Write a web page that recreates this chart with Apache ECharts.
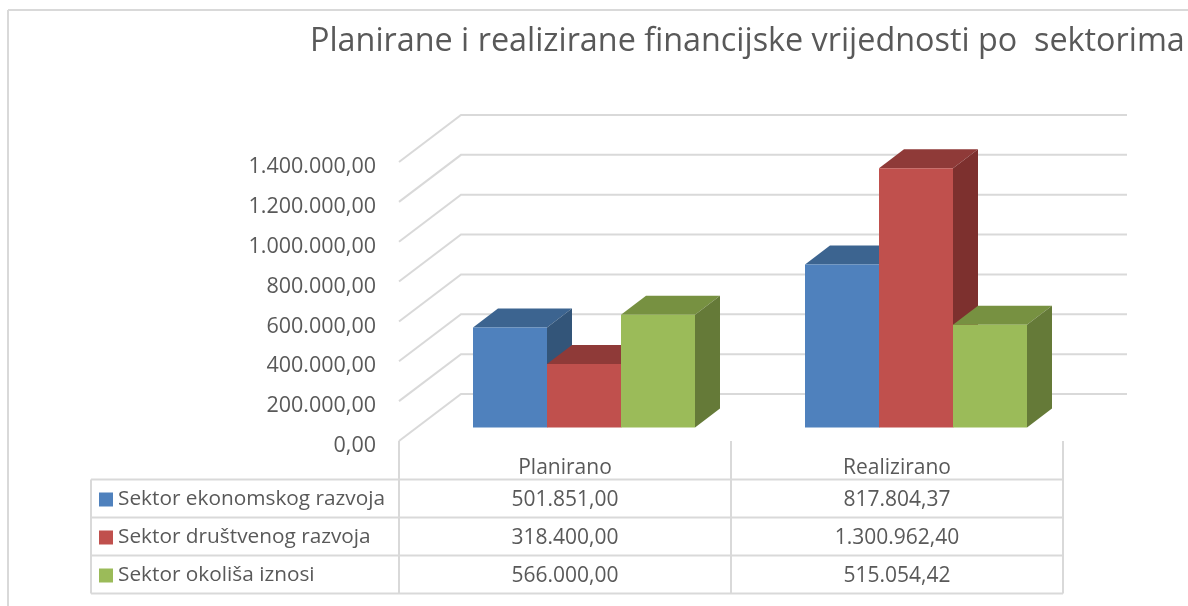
<!DOCTYPE html>
<html>
<head>
<meta charset="utf-8">
<style>
html, body { margin: 0; padding: 0; background: #fff; }
#chart { width: 1188px; height: 606px; }
</style>
<script src="https://cdn.jsdelivr.net/npm/echarts@6/dist/echarts.min.js"></script>
</head>
<body>
<div id="chart"></div>
<script>
var titleText = 'Planirane i realizirane financijske vrijednosti po  sektorima';
var categories = ['Planirano', 'Realizirano'];
var sectorNames = ['Sektor ekonomskog razvoja', 'Sektor društvenog razvoja', 'Sektor okoliša iznosi'];
var ekonomski = [501851.00, 817804.37];
var drustveni = [318400.00, 1300962.40];
var okolis = [566000.00, 515054.42];
var yTicks = [0, 200000, 400000, 600000, 800000, 1000000, 1200000, 1400000];

var frontColors = ['#4f81bd', '#c0504d', '#9bbb59'];
var topColors = ['#3c6490', '#8f3a38', '#779141'];
var sideColors = ['#335579', '#7d302e', '#657a38'];

var textColor = '#595959';
var lineColor = '#d9d9d9';
var fontName = '"Open Sans", sans-serif';

// okvir 3D prikaza
var wallDx = 62, wallDy = 47;
var barShiftX = 19, barShiftY = 13.5;
var barWidth = 74, depthX = 25, depthY = 19;

var gridLeft = 399, gridRight = 1063, gridTop = 162, gridBottom = 441;
var rowLines = [479.5, 517.5, 555.5, 593.5];
var tableLeft = 91;

// 1234567.8 -> 1.234.567,80
function fmt(v) {
    var parts = v.toFixed(2).split('.');
    return parts[0].replace(/\B(?=(\d{3})+$)/g, '.') + ',' + parts[1];
}

function renderWall(params, api) {
    var cs = params.coordSys;
    var y = api.coord([0, api.value(0)])[1];
    return {
        type: 'polyline',
        shape: { points: [[cs.x, y], [cs.x + wallDx, y - wallDy], [cs.x + cs.width + wallDx + 2, y - wallDy]] },
        style: { stroke: lineColor, lineWidth: 2, fill: null }
    };
}

function makeBar(s) {
    return function (params, api) {
        var p = api.coord([api.value(0), api.value(1)]);
        var base = api.coord([api.value(0), 0]);
        var x0 = p[0] + barShiftX + (s - 1.5) * barWidth;
        var x1 = x0 + barWidth;
        var yT = p[1] - barShiftY;
        var yB = base[1] - barShiftY;
        return {
            type: 'group',
            children: [
                {
                    type: 'polygon',
                    shape: { points: [[x0, yT], [x1, yT], [x1 + depthX, yT - depthY], [x0 + depthX, yT - depthY]] },
                    style: { fill: topColors[s] }
                },
                {
                    type: 'polygon',
                    shape: { points: [[x1, yT], [x1 + depthX, yT - depthY], [x1 + depthX, yB - depthY], [x1, yB]] },
                    style: { fill: sideColors[s] }
                },
                {
                    type: 'rect',
                    shape: { x: x0, y: yT, width: barWidth, height: yB - yT },
                    style: { fill: frontColors[s] }
                }
            ]
        };
    };
}

function tableGraphics() {
    var out = [];
    function line(x1, y1, x2, y2) {
        out.push({
            type: 'line',
            shape: { x1: x1, y1: y1, x2: x2, y2: y2 },
            style: { stroke: lineColor, lineWidth: 2 }
        });
    }
    // vanjski okvir slike
    line(8, 10, 1188, 10);
    line(8, 10, 8, 606);
    var colX = [gridLeft, (gridLeft + gridRight) / 2, gridRight];
    colX.forEach(function (x) { line(x, gridBottom, x, rowLines[3]); });
    line(tableLeft, rowLines[0], tableLeft, rowLines[3]);
    rowLines.forEach(function (y) { line(tableLeft, y, gridRight, y); });

    var values = [ekonomski, drustveni, okolis];
    values.forEach(function (row, r) {
        row.forEach(function (v, c) {
            out.push({
                type: 'text',
                x: (colX[c] + colX[c + 1]) / 2,
                y: (rowLines[r] + rowLines[r + 1]) / 2 + 2,
                style: {
                    text: fmt(v),
                    fill: textColor,
                    font: '21px ' + fontName,
                    textAlign: 'center',
                    textVerticalAlign: 'middle'
                }
            });
        });
    });
    return out;
}

var seriesValues = [ekonomski, drustveni, okolis];
var series = [{
    type: 'custom',
    name: 'wall',
    silent: true,
    z: 1,
    renderItem: renderWall,
    encode: { y: 0 },
    data: yTicks.map(function (v) { return [v]; })
}];
sectorNames.forEach(function (name, s) {
    series.push({
        type: 'custom',
        name: name,
        z: 2 + s,
        itemStyle: { color: frontColors[s] },
        renderItem: makeBar(s),
        encode: { x: 0, y: 1 },
        data: seriesValues[s].map(function (v, i) { return [i, v]; })
    });
});

var myChart = echarts.init(document.getElementById('chart'));
var option = {
    animation: false,
    backgroundColor: '#fff',
    title: {
        text: titleText,
        left: 305,
        top: 21,
        textStyle: { color: textColor, fontSize: 32.35, fontWeight: 'normal', fontFamily: fontName }
    },
    legend: {
        orient: 'vertical',
        left: 94,
        top: 484,
        itemWidth: 14,
        itemHeight: 14,
        itemGap: 17,
        icon: 'rect',
        data: sectorNames,
        textStyle: { color: textColor, fontSize: 20.8, fontFamily: fontName }
    },
    grid: { left: gridLeft, right: 1188 - gridRight, top: gridTop, bottom: 606 - gridBottom },
    xAxis: {
        type: 'category',
        data: categories,
        axisLine: { show: false },
        axisTick: { show: false },
        axisLabel: { color: textColor, fontSize: 21, fontFamily: fontName, margin: 17 }
    },
    yAxis: {
        type: 'value',
        min: 0,
        max: 1400000,
        interval: 200000,
        splitLine: { show: false },
        axisLine: { show: false },
        axisTick: { show: false },
        axisLabel: {
            color: textColor,
            fontSize: 21.5,
            fontFamily: fontName,
            margin: 23,
            verticalAlign: 'top',
            lineHeight: 10,
            formatter: function (v) { return fmt(v); }
        }
    },
    graphic: tableGraphics(),
    series: series
};
myChart.setOption(option);
</script>
</body>
</html>
